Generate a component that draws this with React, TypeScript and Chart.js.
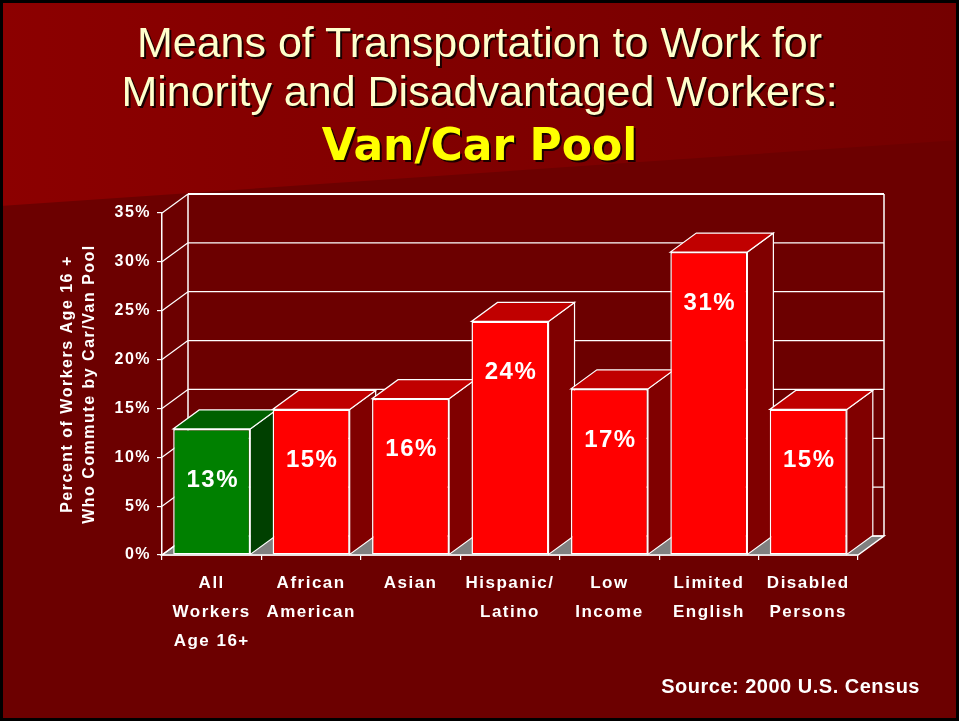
import React, { useEffect, useRef } from 'react';
import { Chart, registerables } from 'chart.js';

Chart.register(...registerables);

// ---------- data ----------
const titleLines = ['Means of Transportation to Work for', 'Minority and Disadvantaged Workers:'];
const subtitle = 'Van/Car Pool';
const sourceText = 'Source: 2000 U.S. Census';
const categories: string[][] = [
  ['All', 'Workers', 'Age 16+'],
  ['African', 'American'],
  ['Asian'],
  ['Hispanic/', 'Latino'],
  ['Low', 'Income'],
  ['Limited', 'English'],
  ['Disabled', 'Persons'],
];
const values = [12.9, 14.9, 16.0, 23.9, 17.0, 31.0, 14.9];
const yMin = 0;
const yMax = 35;
const yStep = 5;
const yTitle = ['Percent of Workers Age 16 +', 'Who Commute by Car/Van Pool'];

// ---------- styling ----------
const FONT = '"Liberation Sans", Arial, sans-serif';
const DX = 26;
const DY = -19;
const faceColors = (i: number) =>
  i === 0
    ? { front: '#008000', side: '#004000', top: '#006000' }
    : { front: '#FF0000', side: '#800000', top: '#C00000' };

const threeD = {
  id: 'threeD',
  beforeDraw(chart: any) {
    chart.ctx.letterSpacing = '1.5px';
  },
  beforeDatasetsDraw(chart: any) {
    const { ctx, chartArea: a } = chart;
    const y = chart.scales.y;
    const line = (x1: number, y1: number, x2: number, y2: number, w = 1.2) => {
      ctx.beginPath();
      ctx.lineWidth = w;
      ctx.moveTo(x1, y1);
      ctx.lineTo(x2, y2);
      ctx.stroke();
    };
    ctx.save();
    ctx.strokeStyle = '#ffffff';
    // floor
    ctx.fillStyle = '#808080';
    ctx.beginPath();
    ctx.moveTo(a.left, a.bottom);
    ctx.lineTo(a.right, a.bottom);
    ctx.lineTo(a.right + DX, a.bottom + DY);
    ctx.lineTo(a.left + DX, a.bottom + DY);
    ctx.closePath();
    ctx.fill();
    ctx.lineWidth = 1.5;
    ctx.stroke();
    // back wall grid + left wall lines
    y.ticks.forEach((t: any) => {
      const py = y.getPixelForValue(t.value);
      line(a.left + DX, py + DY, a.right + DX, py + DY, t.value === yMax ? 2 : 1.2);
      line(a.left, py, a.left + DX, py + DY, 1.2);
    });
    line(a.left + DX, a.top + DY, a.left + DX, a.bottom + DY, 1.5);
    line(a.right + DX, a.top + DY, a.right + DX, a.bottom + DY, 1.5);
    // bar sides and tops
    const meta = chart.getDatasetMeta(0);
    meta.data.forEach((bar: any, i: number) => {
      const { x, y: top, base, width } = bar.getProps(['x', 'y', 'base', 'width'], true);
      const L = x - width / 2;
      const R = x + width / 2;
      const c = faceColors(i);
      ctx.lineWidth = 1.2;
      ctx.fillStyle = c.side;
      ctx.beginPath();
      ctx.moveTo(R, base);
      ctx.lineTo(R, top);
      ctx.lineTo(R + DX, top + DY);
      ctx.lineTo(R + DX, base + DY);
      ctx.closePath();
      ctx.fill();
      ctx.stroke();
      ctx.fillStyle = c.top;
      ctx.beginPath();
      ctx.moveTo(L, top);
      ctx.lineTo(R, top);
      ctx.lineTo(R + DX, top + DY);
      ctx.lineTo(L + DX, top + DY);
      ctx.closePath();
      ctx.fill();
      ctx.stroke();
    });
    ctx.restore();
  },
  afterDatasetsDraw(chart: any) {
    const { ctx } = chart;
    const meta = chart.getDatasetMeta(0);
    ctx.save();
    ctx.font = `bold 24px ${FONT}`;
    ctx.fillStyle = '#ffffff';
    ctx.textAlign = 'center';
    ctx.textBaseline = 'middle';
    meta.data.forEach((bar: any, i: number) => {
      const { x, y } = bar.getProps(['x', 'y'], true);
      ctx.fillText(Math.round(values[i]) + '%', x + 1, y + 51);
    });
    ctx.restore();
  },
};

export default function App() {
  const ref = useRef<HTMLCanvasElement | null>(null);

  useEffect(() => {
    if (!ref.current) return;
    const chart = new Chart(ref.current, {
      type: 'bar',
      data: {
        labels: categories,
        datasets: [
          {
            data: values,
            backgroundColor: values.map((_, i) => faceColors(i).front),
            borderColor: '#ffffff',
            borderWidth: 1.5,
            borderSkipped: false,
            barPercentage: 0.775,
            categoryPercentage: 1,
          },
        ],
      },
      options: {
        animation: false,
        responsive: true,
        maintainAspectRatio: false,
        events: [],
        layout: { padding: { left: 0, top: 213, right: 101, bottom: 66 } },
        plugins: {
          legend: { display: false },
          tooltip: { enabled: false },
          title: { display: false },
        },
        scales: {
          x: {
            offset: true,
            grid: { drawOnChartArea: false, color: '#ffffff', tickLength: 5, offset: true, lineWidth: 1.2 },
            border: { color: '#ffffff', width: 1.5 },
            ticks: {
              color: '#ffffff',
              font: { family: FONT, size: 17, weight: 'bold', lineHeight: 29 / 17 },
              padding: 8.5,
              maxRotation: 0,
              autoSkip: false,
            },
            afterFit: (s: any) => {
              s.height = 100;
            },
          },
          y: {
            min: yMin,
            max: yMax,
            ticks: {
              stepSize: yStep,
              callback: (v: any) => v + '%',
              color: '#ffffff',
              font: { family: FONT, size: 16, weight: 'bold' },
              padding: 6,
            },
            grid: { drawOnChartArea: false, color: '#ffffff', tickLength: 5, lineWidth: 1.2 },
            border: { color: '#ffffff', width: 1.5 },
            title: {
              display: true,
              text: yTitle,
              color: '#ffffff',
              font: { family: FONT, size: 16, weight: 'bold', lineHeight: 22 / 16 },
              padding: { top: 57, bottom: 0 },
            },
            afterFit: (s: any) => {
              s.width = 162;
            },
          },
        },
      },
      plugins: [threeD],
    } as any);
    return () => chart.destroy();
  }, []);

  const shadow = '2px 2px 0 #1a0000';
  return (
    <div
      style={{
        position: 'absolute',
        left: 0,
        top: 0,
        width: 959,
        height: 721,
        overflow: 'hidden',
        background: '#6c0000',
      }}
    >
      <div
        style={{
          position: 'absolute',
          inset: 0,
          background: 'linear-gradient(to right, #8c0000, #740000)',
          clipPath: 'polygon(0 0, 959px 0, 959px 140px, 0 206px)',
        }}
      />
      <div style={{ position: 'absolute', left: 0, top: 0, width: 959, height: 721 }}>
        <canvas ref={ref} />
      </div>
      {titleLines.map((t, i) => (
        <div
          key={i}
          style={{
            position: 'absolute',
            left: 0,
            width: 959,
            top: i === 0 ? 20.6 : 69.6,
            textAlign: 'center',
            fontFamily: FONT,
            fontSize: 43,
            lineHeight: '43px',
            color: '#FFFFCC',
            textShadow: shadow,
            whiteSpace: 'nowrap',
          }}
        >
          {t}
        </div>
      ))}
      <div
        style={{
          position: 'absolute',
          left: 0,
          width: 959,
          top: 123,
          textAlign: 'center',
          fontFamily: '"DejaVu Sans", sans-serif',
          fontWeight: 'bold',
          fontSize: 44,
          lineHeight: '44px',
          color: '#FFFF00',
          textShadow: shadow,
          whiteSpace: 'nowrap',
        }}
      >
        {subtitle}
      </div>
      <div
        style={{
          position: 'absolute',
          right: 39,
          top: 675,
          fontFamily: FONT,
          fontWeight: 'bold',
          fontSize: 20,
          lineHeight: '23px',
          letterSpacing: '0.5px',
          color: '#ffffff',
          whiteSpace: 'nowrap',
        }}
      >
        {sourceText}
      </div>
      <div
        style={{
          position: 'absolute',
          inset: 0,
          border: '3px solid #000',
          boxSizing: 'border-box',
          pointerEvents: 'none',
        }}
      />
    </div>
  );
}
